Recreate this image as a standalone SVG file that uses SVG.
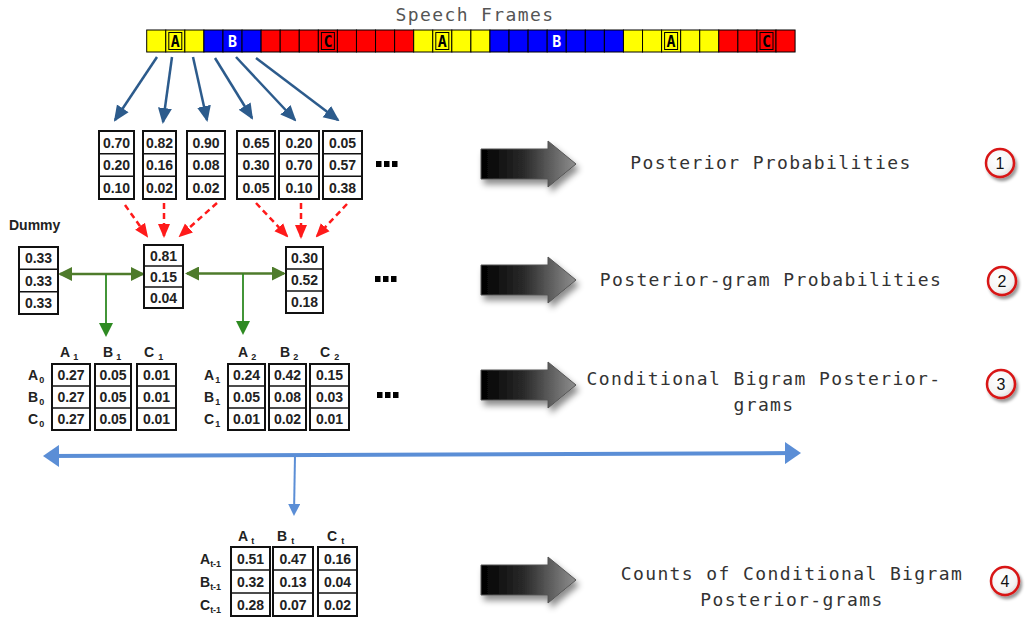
<svg xmlns="http://www.w3.org/2000/svg" width="1026" height="619" viewBox="0 0 1026 619">
<defs>
<style>
.title{font-family:"DejaVu Sans Mono","Liberation Mono",monospace;font-size:18px;letter-spacing:1.4px;fill:#333;text-anchor:middle}
.cell{font-family:"Liberation Sans",Arial,sans-serif;font-weight:bold;font-size:14px;fill:#222;text-anchor:middle}
.hdr{font-family:"Liberation Sans",Arial,sans-serif;font-weight:bold;font-size:14px;fill:#222}
.sub{font-size:9px}
.box{fill:#fff;stroke:#111;stroke-width:2}
.div{stroke:#111;stroke-width:1.5}
.fr{stroke:#000;stroke-width:1}
.let{font-family:"DejaVu Sans Mono",monospace;font-weight:bold;font-size:15px;text-anchor:middle}
.blk{fill:#000}
.num{font-family:"Liberation Sans",Arial,sans-serif;font-size:16px;fill:#111;text-anchor:middle}
</style>
<marker id="mBlue" markerUnits="userSpaceOnUse" viewBox="0 0 16 16" markerWidth="16" markerHeight="16" refX="14" refY="8" orient="auto"><path d="M0,1 L16,8 L0,15 z" fill="#2C5B8C"/></marker>
<marker id="mRed" markerUnits="userSpaceOnUse" viewBox="0 0 14 14" markerWidth="14" markerHeight="14" refX="12" refY="7" orient="auto"><path d="M0,1 L14,7 L0,13 z" fill="#FF1A1A"/></marker>
<marker id="mGreenH" markerUnits="userSpaceOnUse" viewBox="0 0 14 14" markerWidth="14" markerHeight="14" refX="12" refY="7" orient="auto-start-reverse"><path d="M0,0 L14,7 L0,14 z" fill="#4E7B2B"/></marker>
<marker id="mGreenV" markerUnits="userSpaceOnUse" viewBox="0 0 14 14" markerWidth="14" markerHeight="14" refX="12" refY="7" orient="auto"><path d="M0,0 L14,7 L0,14 z" fill="#2E8A22"/></marker>
<marker id="mLB" markerUnits="userSpaceOnUse" viewBox="0 0 16 22" markerWidth="16" markerHeight="22" refX="13" refY="11" orient="auto-start-reverse"><path d="M0,0 L16,11 L0,22 z" fill="#5B8ED6"/></marker>
<marker id="mLBs" markerUnits="userSpaceOnUse" viewBox="0 0 12 12" markerWidth="12" markerHeight="12" refX="10" refY="6" orient="auto"><path d="M0,0 L12,6 L0,12 z" fill="#5B8ED6"/></marker>
<linearGradient id="gArrow" x1="0" y1="0" x2="1" y2="0"><stop offset="0" stop-color="#000"/><stop offset="0.45" stop-color="#2a2a2a"/><stop offset="1" stop-color="#8f8f8f"/></linearGradient>
<radialGradient id="gCirc" cx="0.4" cy="0.35" r="0.7"><stop offset="0" stop-color="#fff"/><stop offset="0.7" stop-color="#f4f4f4"/><stop offset="1" stop-color="#d8d8d8"/></radialGradient>
<filter id="shadow" x="-30%" y="-40%" width="160%" height="190%"><feDropShadow dx="3" dy="5" stdDeviation="3" flood-color="#000" flood-opacity="0.45"/></filter>
<filter id="cshadow" x="-40%" y="-40%" width="190%" height="190%"><feDropShadow dx="2" dy="3" stdDeviation="1.5" flood-color="#000" flood-opacity="0.4"/></filter>
<path id="bigArrow" d="M0,-15 L67,-15 L67,-23 L95,0 L67,23 L67,15 L0,15 z"/>
</defs>

<text class="title" x="475" y="21" style="fill:#555">Speech Frames</text>

<g id="frames">
<rect class="fr" x="146.7" y="30" width="19.07" height="22" fill="#FFFF00"/>
<rect class="fr" x="165.77" y="30" width="19.07" height="22" fill="#FFFF00"/>
<rect class="fr" x="184.84" y="30" width="19.07" height="22" fill="#FFFF00"/>
<rect class="fr" x="203.91" y="30" width="19.07" height="22" fill="#0000FF"/>
<rect class="fr" x="222.98" y="30" width="19.07" height="22" fill="#0000FF"/>
<rect class="fr" x="242.05" y="30" width="19.07" height="22" fill="#0000FF"/>
<rect class="fr" x="261.12" y="30" width="19.07" height="22" fill="#FF0000"/>
<rect class="fr" x="280.19" y="30" width="19.07" height="22" fill="#FF0000"/>
<rect class="fr" x="299.26" y="30" width="19.07" height="22" fill="#FF0000"/>
<rect class="fr" x="318.33" y="30" width="19.07" height="22" fill="#FF0000"/>
<rect class="fr" x="337.4" y="30" width="19.07" height="22" fill="#FF0000"/>
<rect class="fr" x="356.47" y="30" width="19.07" height="22" fill="#FF0000"/>
<rect class="fr" x="375.54" y="30" width="19.07" height="22" fill="#FF0000"/>
<rect class="fr" x="394.61" y="30" width="19.07" height="22" fill="#FF0000"/>
<rect class="fr" x="413.68" y="30" width="19.07" height="22" fill="#FFFF00"/>
<rect class="fr" x="432.75" y="30" width="19.07" height="22" fill="#FFFF00"/>
<rect class="fr" x="451.82" y="30" width="19.07" height="22" fill="#FFFF00"/>
<rect class="fr" x="470.89" y="30" width="19.07" height="22" fill="#FFFF00"/>
<rect class="fr" x="489.96" y="30" width="19.07" height="22" fill="#0000FF"/>
<rect class="fr" x="509.03" y="30" width="19.07" height="22" fill="#0000FF"/>
<rect class="fr" x="528.1" y="30" width="19.07" height="22" fill="#0000FF"/>
<rect class="fr" x="547.17" y="30" width="19.07" height="22" fill="#0000FF"/>
<rect class="fr" x="566.24" y="30" width="19.07" height="22" fill="#0000FF"/>
<rect class="fr" x="585.31" y="30" width="19.07" height="22" fill="#0000FF"/>
<rect class="fr" x="604.38" y="30" width="19.07" height="22" fill="#0000FF"/>
<rect class="fr" x="623.45" y="30" width="19.07" height="22" fill="#FFFF00"/>
<rect class="fr" x="642.52" y="30" width="19.07" height="22" fill="#FFFF00"/>
<rect class="fr" x="661.59" y="30" width="19.07" height="22" fill="#FFFF00"/>
<rect class="fr" x="680.66" y="30" width="19.07" height="22" fill="#FFFF00"/>
<rect class="fr" x="699.73" y="30" width="19.07" height="22" fill="#FFFF00"/>
<rect class="fr" x="718.8" y="30" width="19.07" height="22" fill="#FF0000"/>
<rect class="fr" x="737.87" y="30" width="19.07" height="22" fill="#FF0000"/>
<rect class="fr" x="756.94" y="30" width="19.07" height="22" fill="#FF0000"/>
<rect class="fr" x="776.01" y="30" width="19.07" height="22" fill="#FF0000"/>
<rect x="168.8" y="32.5" width="13" height="17" fill="none" stroke="#000" stroke-width="1"/>
<rect x="321.4" y="32.5" width="13" height="17" fill="none" stroke="#000" stroke-width="1"/>
<rect x="435.8" y="32.5" width="13" height="17" fill="none" stroke="#000" stroke-width="1"/>
<rect x="664.6" y="32.5" width="13" height="17" fill="none" stroke="#000" stroke-width="1"/>
<rect x="760" y="32.5" width="13" height="17" fill="none" stroke="#000" stroke-width="1"/>
<text class="let" x="175.3" y="46.5" fill="#000">A</text>
<text class="let" x="232.5" y="46.5" fill="#fff">B</text>
<text class="let" x="327.9" y="46.5" fill="#000">C</text>
<text class="let" x="442.3" y="46.5" fill="#000">A</text>
<text class="let" x="556.7" y="46.5" fill="#fff">B</text>
<text class="let" x="671.1" y="46.5" fill="#000">A</text>
<text class="let" x="766.5" y="46.5" fill="#000">C</text>
</g>

<g id="connectors">
<g stroke="#2C5B8C" stroke-width="2.5" fill="none" marker-end="url(#mBlue)">
<line x1="157" y1="57" x2="115" y2="120"/>
<line x1="172" y1="57" x2="163" y2="122"/>
<line x1="193" y1="57" x2="207" y2="120"/>
<line x1="215" y1="58" x2="252" y2="118"/>
<line x1="236" y1="57" x2="295" y2="120"/>
<line x1="256" y1="58" x2="338" y2="120"/>
</g>
<g stroke="#FF1A1A" stroke-width="2.5" stroke-dasharray="6,4" fill="none" marker-end="url(#mRed)">
<line x1="125" y1="205" x2="147" y2="236"/>
<line x1="164" y1="203" x2="164" y2="236"/>
<line x1="217" y1="203" x2="180" y2="236"/>
<line x1="256" y1="203" x2="287" y2="236"/>
<line x1="301" y1="203" x2="301" y2="237"/>
<line x1="347" y1="204" x2="317" y2="236"/>
</g>
<g stroke="#4E7B2B" stroke-width="2.5" fill="none" marker-start="url(#mGreenH)" marker-end="url(#mGreenH)">
<line x1="60" y1="274" x2="143" y2="274"/>
<line x1="187" y1="273.5" x2="284" y2="273.5"/>
</g>
<g stroke="#2E8A22" stroke-width="1.8" fill="none" marker-end="url(#mGreenV)">
<line x1="106" y1="274" x2="106" y2="335"/>
<line x1="243" y1="273.5" x2="243" y2="333"/>
</g>
<line x1="46" y1="456" x2="798" y2="453" stroke="#5B8ED6" stroke-width="4" marker-start="url(#mLB)" marker-end="url(#mLB)"/>
<line x1="295" y1="455" x2="294" y2="514" stroke="#5B8ED6" stroke-width="2" marker-end="url(#mLBs)"/>
</g>

<g id="posterior-tables">
<g id="p1"><rect class="box" x="99" y="131" width="35" height="68"/><line class="div" x1="99" y1="153.7" x2="134" y2="153.7"/><line class="div" x1="99" y1="176.3" x2="134" y2="176.3"/><text class="cell" x="116.5" y="147.5">0.70</text><text class="cell" x="116.5" y="170">0.20</text><text class="cell" x="116.5" y="192.5">0.10</text></g>
<g id="p2"><rect class="box" x="143" y="131" width="33" height="68"/><line class="div" x1="143" y1="153.7" x2="176" y2="153.7"/><line class="div" x1="143" y1="176.3" x2="176" y2="176.3"/><text class="cell" x="159.5" y="147.5">0.82</text><text class="cell" x="159.5" y="170">0.16</text><text class="cell" x="159.5" y="192.5">0.02</text></g>
<g id="p3"><rect class="box" x="187" y="131" width="38" height="68"/><line class="div" x1="187" y1="153.7" x2="225" y2="153.7"/><line class="div" x1="187" y1="176.3" x2="225" y2="176.3"/><text class="cell" x="206" y="147.5">0.90</text><text class="cell" x="206" y="170">0.08</text><text class="cell" x="206" y="192.5">0.02</text></g>
<g id="p4"><rect class="box" x="237" y="131" width="38" height="68"/><line class="div" x1="237" y1="153.7" x2="275" y2="153.7"/><line class="div" x1="237" y1="176.3" x2="275" y2="176.3"/><text class="cell" x="256" y="147.5">0.65</text><text class="cell" x="256" y="170">0.30</text><text class="cell" x="256" y="192.5">0.05</text></g>
<g id="p5"><rect class="box" x="279" y="131" width="40" height="68"/><line class="div" x1="279" y1="153.7" x2="319" y2="153.7"/><line class="div" x1="279" y1="176.3" x2="319" y2="176.3"/><text class="cell" x="299" y="147.5">0.20</text><text class="cell" x="299" y="170">0.70</text><text class="cell" x="299" y="192.5">0.10</text></g>
<g id="p6"><rect class="box" x="323" y="131" width="39" height="68"/><line class="div" x1="323" y1="153.7" x2="362" y2="153.7"/><line class="div" x1="323" y1="176.3" x2="362" y2="176.3"/><text class="cell" x="342.5" y="147.5">0.05</text><text class="cell" x="342.5" y="170">0.57</text><text class="cell" x="342.5" y="192.5">0.38</text></g>
</g>

<g id="dots1"><rect class="blk" x="376" y="161" width="5.5" height="6"/><rect class="blk" x="384" y="161" width="5.5" height="6"/><rect class="blk" x="392" y="161" width="5.5" height="6"/></g>
<g id="dots2"><rect class="blk" x="375" y="276" width="5.5" height="6"/><rect class="blk" x="383" y="276" width="5.5" height="6"/><rect class="blk" x="391" y="276" width="5.5" height="6"/></g>
<g id="dots3"><rect class="blk" x="377" y="392" width="5.5" height="6"/><rect class="blk" x="385" y="392" width="5.5" height="6"/><rect class="blk" x="393" y="392" width="5.5" height="6"/></g>

<g id="dummy">
<text class="hdr" x="9" y="230">Dummy</text>
<rect class="box" x="19" y="247" width="39" height="67"/><line class="div" x1="19" y1="269.3" x2="58" y2="269.3"/><line class="div" x1="19" y1="291.7" x2="58" y2="291.7"/>
<text class="cell" x="38.5" y="263">0.33</text><text class="cell" x="38.5" y="285.5">0.33</text><text class="cell" x="38.5" y="308">0.33</text>
</g>
<g id="postgram1">
<rect class="box" x="144" y="245" width="39" height="63"/><line class="div" x1="144" y1="266" x2="183" y2="266"/><line class="div" x1="144" y1="287" x2="183" y2="287"/>
<text class="cell" x="163.5" y="260.5">0.81</text><text class="cell" x="163.5" y="281.5">0.15</text><text class="cell" x="163.5" y="302.5">0.04</text>
</g>
<g id="postgram2">
<rect class="box" x="286" y="247" width="37" height="66"/><line class="div" x1="286" y1="269" x2="323" y2="269"/><line class="div" x1="286" y1="291" x2="323" y2="291"/>
<text class="cell" x="304.5" y="263">0.30</text><text class="cell" x="304.5" y="285">0.52</text><text class="cell" x="304.5" y="307">0.18</text>
</g>

<g id="bigram1">
<text class="hdr" x="60" y="357">A<tspan class="sub" dx="3" dy="3">1</tspan></text>
<text class="hdr" x="103" y="357">B<tspan class="sub" dx="3" dy="3">1</tspan></text>
<text class="hdr" x="144" y="357">C<tspan class="sub" dx="4" dy="3">1</tspan></text>
<text class="hdr" x="28" y="380">A<tspan class="sub" dx="1" dy="3">0</tspan></text>
<text class="hdr" x="28" y="402">B<tspan class="sub" dx="1" dy="3">0</tspan></text>
<text class="hdr" x="28" y="424">C<tspan class="sub" dx="1" dy="3">0</tspan></text>
<rect class="box" x="52" y="364" width="38" height="66"/><line class="div" x1="52" y1="386" x2="90" y2="386"/><line class="div" x1="52" y1="408" x2="90" y2="408"/>
<rect class="box" x="95" y="364" width="36" height="66"/><line class="div" x1="95" y1="386" x2="131" y2="386"/><line class="div" x1="95" y1="408" x2="131" y2="408"/>
<rect class="box" x="137" y="364" width="39" height="66"/><line class="div" x1="137" y1="386" x2="176" y2="386"/><line class="div" x1="137" y1="408" x2="176" y2="408"/>
<text class="cell" x="71" y="380">0.27</text><text class="cell" x="71" y="402">0.27</text><text class="cell" x="71" y="424">0.27</text>
<text class="cell" x="113" y="380">0.05</text><text class="cell" x="113" y="402">0.05</text><text class="cell" x="113" y="424">0.05</text>
<text class="cell" x="156.5" y="380">0.01</text><text class="cell" x="156.5" y="402">0.01</text><text class="cell" x="156.5" y="424">0.01</text>
</g>

<g id="bigram2">
<text class="hdr" x="238" y="357">A<tspan class="sub" dx="3" dy="3">2</tspan></text>
<text class="hdr" x="280" y="357">B<tspan class="sub" dx="3" dy="3">2</tspan></text>
<text class="hdr" x="320" y="357">C<tspan class="sub" dx="4" dy="3">2</tspan></text>
<text class="hdr" x="204" y="380">A<tspan class="sub" dx="1" dy="3">1</tspan></text>
<text class="hdr" x="204" y="402">B<tspan class="sub" dx="1" dy="3">1</tspan></text>
<text class="hdr" x="204" y="424">C<tspan class="sub" dx="1" dy="3">1</tspan></text>
<rect class="box" x="228" y="364" width="37" height="66"/><line class="div" x1="228" y1="386" x2="265" y2="386"/><line class="div" x1="228" y1="408" x2="265" y2="408"/>
<rect class="box" x="269" y="364" width="37" height="66"/><line class="div" x1="269" y1="386" x2="306" y2="386"/><line class="div" x1="269" y1="408" x2="306" y2="408"/>
<rect class="box" x="310" y="364" width="39" height="66"/><line class="div" x1="310" y1="386" x2="349" y2="386"/><line class="div" x1="310" y1="408" x2="349" y2="408"/>
<text class="cell" x="246.5" y="380">0.24</text><text class="cell" x="246.5" y="402">0.05</text><text class="cell" x="246.5" y="424">0.01</text>
<text class="cell" x="287.5" y="380">0.42</text><text class="cell" x="287.5" y="402">0.08</text><text class="cell" x="287.5" y="424">0.02</text>
<text class="cell" x="329.5" y="380">0.15</text><text class="cell" x="329.5" y="402">0.03</text><text class="cell" x="329.5" y="424">0.01</text>
</g>

<g id="counts">
<text class="hdr" x="238" y="541">A<tspan class="sub" dx="3" dy="3">t</tspan></text>
<text class="hdr" x="277" y="541">B<tspan class="sub" dx="4" dy="3">t</tspan></text>
<text class="hdr" x="327" y="541">C<tspan class="sub" dx="4" dy="3">t</tspan></text>
<text class="hdr" x="200" y="564">A<tspan class="sub" dx="0" dy="3">t-1</tspan></text>
<text class="hdr" x="200" y="587">B<tspan class="sub" dx="0" dy="3">t-1</tspan></text>
<text class="hdr" x="200" y="610">C<tspan class="sub" dx="0" dy="3">t-1</tspan></text>
<rect class="box" x="231" y="547" width="39" height="69"/><line class="div" x1="231" y1="570" x2="270" y2="570"/><line class="div" x1="231" y1="593" x2="270" y2="593"/>
<rect class="box" x="273" y="547" width="40" height="69"/><line class="div" x1="273" y1="570" x2="313" y2="570"/><line class="div" x1="273" y1="593" x2="313" y2="593"/>
<rect class="box" x="318" y="547" width="39" height="69"/><line class="div" x1="318" y1="570" x2="357" y2="570"/><line class="div" x1="318" y1="593" x2="357" y2="593"/>
<text class="cell" x="250.5" y="563.5">0.51</text><text class="cell" x="250.5" y="586.5">0.32</text><text class="cell" x="250.5" y="609.5">0.28</text>
<text class="cell" x="293" y="563.5">0.47</text><text class="cell" x="293" y="586.5">0.13</text><text class="cell" x="293" y="609.5">0.07</text>
<text class="cell" x="337.5" y="563.5">0.16</text><text class="cell" x="337.5" y="586.5">0.04</text><text class="cell" x="337.5" y="609.5">0.02</text>
</g>

<g id="step1">
<use href="#bigArrow" x="481" y="164" fill="url(#gArrow)" stroke="#555" stroke-width="1" filter="url(#shadow)"/>
<text class="title" x="771" y="169">Posterior Probabilities</text>
<circle cx="1000" cy="163" r="14" fill="url(#gCirc)" stroke="#D81414" stroke-width="2.5" filter="url(#cshadow)"/>
<text class="num" x="1000" y="169">1</text>
</g>
<g id="step2">
<use href="#bigArrow" x="481" y="280" fill="url(#gArrow)" stroke="#555" stroke-width="1" filter="url(#shadow)"/>
<text class="title" x="771" y="286">Posterior-gram Probabilities</text>
<circle cx="1002" cy="281" r="14" fill="url(#gCirc)" stroke="#D81414" stroke-width="2.5" filter="url(#cshadow)"/>
<text class="num" x="1002" y="287">2</text>
</g>
<g id="step3">
<use href="#bigArrow" x="481" y="385" fill="url(#gArrow)" stroke="#555" stroke-width="1" filter="url(#shadow)"/>
<text class="title" x="764" y="385">Conditional Bigram Posterior-</text>
<text class="title" x="764" y="411">grams</text>
<circle cx="1001" cy="384" r="14" fill="url(#gCirc)" stroke="#D81414" stroke-width="2.5" filter="url(#cshadow)"/>
<text class="num" x="1001" y="390">3</text>
</g>
<g id="step4">
<use href="#bigArrow" x="481" y="580" fill="url(#gArrow)" stroke="#555" stroke-width="1" filter="url(#shadow)"/>
<text class="title" x="792" y="580">Counts of Conditional Bigram</text>
<text class="title" x="792" y="606">Posterior-grams</text>
<circle cx="1005" cy="581" r="14" fill="url(#gCirc)" stroke="#D81414" stroke-width="2.5" filter="url(#cshadow)"/>
<text class="num" x="1005" y="587">4</text>
</g>
</svg>
